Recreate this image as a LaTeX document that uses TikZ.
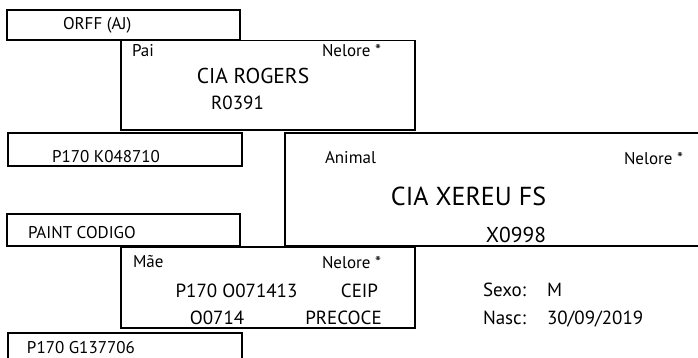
\documentclass[tikz,border=0pt]{standalone}
\usepackage{fontspec}
\setmainfont{PT Sans}
\tikzset{
  box/.style={draw=black, line width=1.1pt},
  thickbox/.style={draw=black, line width=2pt},
  lbl/.style={anchor=base west, inner sep=0pt, outer sep=0pt},
  ctr/.style={anchor=base, inner sep=0pt, outer sep=0pt},
  fsmall/.style={font=\fontsize{17}{17}\selectfont},
  fmid/.style={font=\fontsize{19}{19}\selectfont},
  fbig/.style={font=\fontsize{21.5}{21.5}\selectfont},
  fhuge/.style={font=\fontsize{26}{26}\selectfont},
}
\begin{document}
\begin{tikzpicture}[x=1pt,y=-1pt]
\useasboundingbox (0,0) rectangle (698,358);
% boxes
\draw[box] (7,10) rectangle (240,40);
\draw[box] (121,40.5) rectangle (415,130);
\draw[box] (8,133) rectangle (242,166);
\draw[thickbox] (285,133) rectangle (710,246);
\draw[box] (7,214) rectangle (240,246);
\draw[box] (121,247) rectangle (415,328);
\draw[box] (8,333) rectangle (242,370);
% texts
\node[lbl,fsmall] (orff) at (63,30) {ORFF (AJ)};
\node[lbl,fsmall] (pai) at (132,57) {Pai};
\node[lbl,fsmall] (paibreed) at (322,57) {Nelore *};
\node[ctr,fbig] (painame) at (253,84) {CIA ROGERS};
\node[ctr,fmid] (paicode) at (237.5,110) {R0391};
\node[ctr,fsmall] (avopat) at (106,163) {P170 K048710};
\node[lbl,fsmall] (animal) at (325,164) {Animal};
\node[lbl,fsmall] (animalbreed) at (624,165) {Nelore *};
\node[ctr,fhuge] (animalname) at (468.5,205) {CIA XEREU FS};
\node[ctr,fbig] (animalcode) at (516,242) {X0998};
\node[lbl,fsmall] (paint) at (28,238) {PAINT CODIGO};
\node[lbl,fsmall] (mae) at (133,267) {Mãe};
\node[lbl,fsmall] (maebreed) at (322,268) {Nelore *};
\node[ctr,fmid] (maereg) at (236.5,297) {P170 O071413};
\node[ctr,fmid] (ceip) at (359.5,297) {CEIP};
\node[ctr,fmid] (maecode) at (217,324) {O0714};
\node[ctr,fmid] (precoce) at (343.5,324) {PRECOCE};
\node[lbl,fmid] (sexo) at (483,296) {Sexo:};
\node[lbl,fmid] (sexov) at (547,296) {M};
\node[lbl,fmid] (nasc) at (483,324) {Nasc:};
\node[lbl,fmid] (nascv) at (547,324) {30/09/2019};
\node[lbl,fsmall] (avomat) at (27,353) {P170 G137706};
\end{tikzpicture}
\end{document}
